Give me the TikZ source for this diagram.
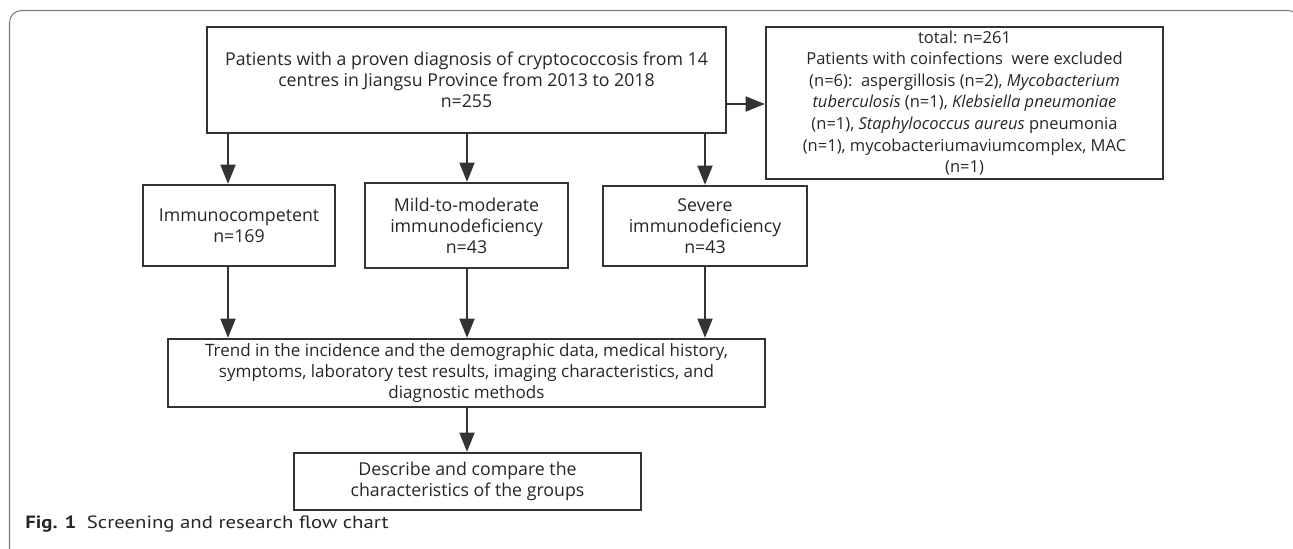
\documentclass[tikz,border=0pt]{standalone}
\usepackage{fontspec}
\setmainfont{Open Sans}
\newfontfamily\capfont{PT Sans}
\usetikzlibrary{arrows.meta,calc}
\definecolor{boxline}{HTML}{333333}
\definecolor{frameline}{HTML}{7A7A7A}
\tikzset{
  flowbox/.style={draw=boxline, line width=1.3pt, align=center, inner sep=0pt,
    text=black!85, font=\fontsize{10.1}{12}\selectfont},
  flowarrow/.style={draw=boxline, line width=1.3pt, -{Triangle[length=11pt,width=8.5pt]}},
}

\begin{document}
\begin{tikzpicture}[x=0.02cm, y=-0.02cm]
		%%%%% START %%%%%
		
		\useasboundingbox (0,0) rectangle (1293,548);
		\begin{scope}
			\clip (0,0) rectangle (1293,548);
			\draw[frameline, line width=0.6pt, rounded corners=6.8pt] (9.5,10.5) rectangle (1300,562);
		\end{scope}
		
		\node[flowbox, minimum width=10.38cm, minimum height=2.12cm] (main) at (466.5,80)
			{Patients with a proven diagnosis of cryptococcosis from 14\\centres in Jiangsu Province from 2013 to 2018\\n=255};
		\node[flowbox, minimum width=7.94cm, minimum height=3.04cm, font=\fontsize{9.4}{12.3}\selectfont] (excl) at (964.5,103)
			{total: n=261\\Patients with coinfections\ \ were excluded\\(n=6):\ \ aspergillosis (n=2), \textit{Mycobacterium}\\\textit{tuberculosis} (n=1), \textit{Klebsiella pneumoniae}\\(n=1), \textit{Staphylococcus aureus} pneumonia\\(n=1), mycobacteriumaviumcomplex, MAC\\(n=1)};
		
		\node[flowbox, minimum width=3.84cm, minimum height=1.62cm] (imm) at (239,225.5) {Immunocompetent\\n=169};
		\node[flowbox, minimum width=4.06cm, minimum height=1.70cm] (mild) at (466.5,225.5) {Mild-to-moderate\\immunodeficiency\\n=43};
		\node[flowbox, minimum width=4.08cm, minimum height=1.60cm] (sev) at (705,226) {Severe\\immunodeficiency\\n=43};
		
		\node[flowbox, minimum width=11.94cm, minimum height=1.36cm, font=\fontsize{9.7}{12}\selectfont] (trend) at (466.5,373)
			{Trend in the incidence and the demographic data, medical history,\\symptoms, laboratory test results, imaging characteristics, and\\diagnostic methods};
		\node[flowbox, minimum width=6.94cm, minimum height=1.14cm] (desc) at (467.5,481.5)
			{Describe and compare the\\characteristics of the groups};
		
		\coordinate (colA) at (228,0);
		\coordinate (colB) at (467,0);
		\coordinate (colC) at (705,0);
		\coordinate (rarr) at (0,104);
		
		\draw[flowarrow] (main.east |- rarr) -- (excl.west |- rarr);
		\draw[flowarrow] (main.south -| colA) -- (imm.north -| colA);
		\draw[flowarrow] (main.south -| colB) -- (mild.north -| colB);
		\draw[flowarrow] (main.south -| colC) -- (sev.north -| colC);
		\draw[flowarrow] (imm.south -| colA) -- (trend.north -| colA);
		\draw[flowarrow] (mild.south -| colB) -- (trend.north -| colB);
		\draw[flowarrow] (sev.south -| colC) -- (trend.north -| colC);
		\draw[flowarrow] (trend.south -| colB) -- (desc.north -| colB);
		
		\node[anchor=base west, inner sep=0pt, text=black!85, font=\capfont\fontsize{10.1}{12}\selectfont] (cap) at (25,528)
			{\scalebox{1.17}[1]{\textbf{Fig. 1}\enspace Screening and research flow chart}};
		
		%%%%% END %%%%%
\end{tikzpicture}
\end{document}
